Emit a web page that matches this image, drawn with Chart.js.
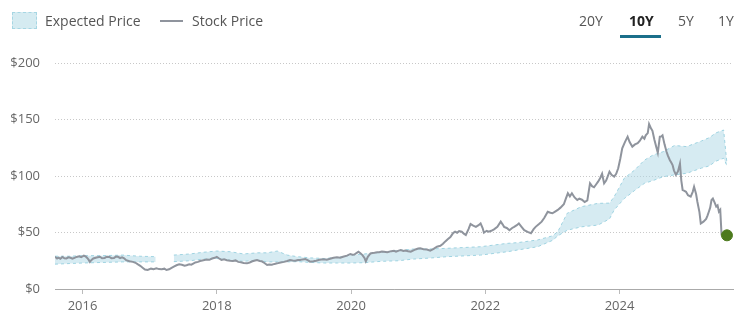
<!DOCTYPE html>
<html><head><meta charset="utf-8">
<script src="https://cdn.jsdelivr.net/npm/chart.js@4"></script>
<style>
html,body{margin:0;padding:0;background:#fff;}
#wrap{position:relative;width:743px;height:334px;font-family:"Open Sans",sans-serif;}
canvas{position:absolute;left:0;top:0;}
.leg{position:absolute;top:10px;font-size:14px;color:#555;line-height:22px;}
.box{position:absolute;left:12px;top:12px;width:23px;height:15px;background:#d5ebf1;border:1px dashed #a6d6e3;}
.lin{position:absolute;left:160px;top:20px;width:23px;height:2px;background:#8f949d;}
.rng{position:absolute;top:10px;font-size:14px;color:#555;line-height:22px;}
.bar{position:absolute;left:620px;top:35px;width:41px;height:3px;background:#1b6f8a;}
</style></head>
<body>
<div id="wrap">
<canvas id="c" width="743" height="334"></canvas>
<div class="box"></div><div class="leg" style="left:45px">Expected Price</div>
<div class="lin"></div><div class="leg" style="left:192px">Stock Price</div>
<div class="rng" style="left:579px">20Y</div>
<div class="rng" style="left:629px;font-weight:bold;color:#222">10Y</div>
<div class="rng" style="left:678px">5Y</div>
<div class="rng" style="left:718px">1Y</div>
<div class="bar"></div>
</div>
<script>
const tickYears = [2016, 2018, 2020, 2022, 2024];
const yTicks = [0, 50, 100, 150, 200];

const stockDates = [2015.59,2015.62,2015.64,2015.67,2015.70,2015.73,2015.76,2015.79,2015.82,2015.85,2015.88,2015.91,2015.95,2015.98,2016.02,2016.05,2016.07,2016.09,2016.11,2016.13,2016.16,2016.21,2016.26,2016.29,2016.33,2016.36,2016.40,2016.43,2016.47,2016.50,2016.53,2016.56,2016.59,2016.62,2016.65,2016.70,2016.75,2016.79,2016.82,2016.86,2016.90,2016.93,2016.97,2017.02,2017.06,2017.10,2017.14,2017.18,2017.22,2017.25,2017.29,2017.32,2017.36,2017.40,2017.44,2017.48,2017.52,2017.55,2017.59,2017.62,2017.65,2017.68,2017.72,2017.75,2017.80,2017.85,2017.89,2017.93,2017.97,2018.00,2018.03,2018.07,2018.11,2018.15,2018.20,2018.24,2018.28,2018.32,2018.36,2018.40,2018.45,2018.49,2018.53,2018.57,2018.60,2018.64,2018.67,2018.71,2018.75,2018.78,2018.82,2018.86,2018.90,2018.95,2019.00,2019.05,2019.09,2019.13,2019.17,2019.21,2019.24,2019.28,2019.32,2019.36,2019.39,2019.44,2019.48,2019.53,2019.59,2019.64,2019.70,2019.74,2019.79,2019.84,2019.88,2019.94,2019.99,2020.02,2020.05,2020.08,2020.11,2020.14,2020.17,2020.20,2020.22,2020.25,2020.29,2020.32,2020.35,2020.39,2020.42,2020.46,2020.49,2020.54,2020.60,2020.64,2020.67,2020.71,2020.74,2020.78,2020.81,2020.85,2020.89,2020.93,2020.96,2021.00,2021.03,2021.08,2021.13,2021.18,2021.23,2021.28,2021.33,2021.37,2021.40,2021.44,2021.48,2021.52,2021.55,2021.58,2021.61,2021.65,2021.68,2021.71,2021.75,2021.78,2021.82,2021.86,2021.90,2021.93,2021.96,2021.98,2022.02,2022.05,2022.09,2022.13,2022.18,2022.23,2022.26,2022.28,2022.32,2022.36,2022.40,2022.43,2022.47,2022.50,2022.54,2022.58,2022.63,2022.68,2022.72,2022.75,2022.80,2022.84,2022.88,2022.93,2022.97,2023.00,2023.04,2023.08,2023.12,2023.17,2023.20,2023.23,2023.26,2023.29,2023.33,2023.37,2023.40,2023.44,2023.48,2023.52,2023.56,2023.59,2023.62,2023.65,2023.68,2023.71,2023.74,2023.77,2023.80,2023.82,2023.85,2023.88,2023.92,2023.95,2023.98,2024.01,2024.04,2024.08,2024.12,2024.15,2024.19,2024.23,2024.27,2024.30,2024.34,2024.37,2024.39,2024.42,2024.44,2024.47,2024.49,2024.52,2024.55,2024.57,2024.60,2024.62,2024.64,2024.67,2024.70,2024.72,2024.75,2024.77,2024.79,2024.81,2024.84,2024.87,2024.90,2024.92,2024.94,2024.96,2024.99,2025.02,2025.06,2025.09,2025.11,2025.14,2025.16,2025.19,2025.21,2025.25,2025.29,2025.31,2025.33,2025.35,2025.37,2025.39,2025.42,2025.44,2025.46,2025.48,2025.50,2025.52,2025.54,2025.56,2025.60];
const stockPrice = [28.5,27,27.8,26.8,28.3,27.2,27,28,27.6,26.8,27.6,28.4,29,28.2,29.5,28.6,27.5,26,24,25.5,27,27.8,28.5,27.2,27.5,28.6,28.4,27.3,27.5,28.8,28.5,27.4,28,27.2,25.5,24.6,24,23.2,22,20.5,18.6,17.2,16.8,18,17.5,18.3,17.6,17.5,18,16.8,17.4,18.5,19.8,21,21.8,21.5,20.6,21,21.8,21.5,22.5,23.5,24,24.8,25.5,26,25.8,27,27.6,28.5,27.2,25.7,26.2,25.5,25,24.8,25.3,24,23.6,23,22.7,23.5,24.5,25.2,25.7,24.8,24.5,23,21.2,21.6,21.5,22.2,22.7,23.4,24,24.8,25.7,25.2,25,25.6,25.7,26.2,26.5,25.4,24.2,24.6,25,25.8,26.3,26,27,27.6,28,27.7,28.5,29.5,31,30.4,30.5,31.8,33,31.6,30,27.5,24.5,28.5,31.5,31.8,32,32.6,32.5,33.2,33,32.6,33.5,33.8,33,34,34.5,33.6,34,33.4,33,34.2,35,35.8,36,35.2,35,33.9,35.5,37.4,38.2,40,41.9,44,46,49.5,50.7,49.8,51.2,50.7,49,47.8,53,57.5,56,55,56.5,58,54,49.8,51.5,50.7,51.5,52.8,55,59.6,57,55,54,52,54,55,56.5,58,55,52,50.5,49.3,53,55,57.5,59.6,63,68.4,67.5,67,68.5,70,72,75,80,84.7,82,84.7,81,78.8,80,79,77,78.5,93.5,91,90,92.5,95,98,102,93.5,96,99,103.8,101,99.5,102,106.8,115,124.5,130,134.8,130,126,128,129,131,134.8,133,136,138,146,142,140,131.8,125,120.5,134.8,135,136,128,121.5,118,114,112,109.7,105,101,104,111,96,87.6,87,86,83,81.7,86,90.5,84,77,68,58,59.6,62,65,68.4,72,78.8,80,76,73,74,68.4,70,47.5];

const bandDates = [2015.59,2015.80,2016.00,2016.30,2016.60,2016.85,2017.09,2017.20,2017.36,2017.60,2017.80,2018.00,2018.20,2018.40,2018.60,2018.75,2018.90,2019.05,2019.20,2019.40,2019.60,2019.80,2020.00,2020.20,2020.45,2020.70,2020.93,2021.20,2021.43,2021.93,2022.33,2022.48,2022.78,2023.00,2023.08,2023.22,2023.43,2023.68,2023.85,2023.92,2024.07,2024.22,2024.37,2024.50,2024.65,2024.82,2025.00,2025.22,2025.34,2025.43,2025.55,2025.60];
const bandUpper = [29,29,29.5,29.5,30,29,28.6,null,30,31,32.5,33.6,33,31,32,32,33.6,30,28.6,27.5,27,28,30,31,32.5,34,35.4,35.5,36,37.4,40.4,41,43.4,47,50.7,67,72.8,75.8,76,81.7,98,105,114,118.6,121.5,127,126,131,134,138,140.7,111];
const bandLower = [22,22.5,23,23.5,24,24,24,null,24.2,25,26.5,27,25.5,24.5,25.5,24,24,24,24.2,23.5,23,23,23,23.3,24.5,25,26.5,27.5,28.6,30,33,34.5,37.4,43,47,52,55,56.6,62,70,80,87,93.5,96,99.4,101,102.4,107,109,113,115.7,109];

const lastDate = [2025.60];
const lastPrice = [47.5];

const toXY = (xs, ys) => xs.map((x, i) => ({x: x, y: ys[i]}));
const FONT = {family: "'Open Sans', sans-serif", size: 13};

new Chart(document.getElementById('c'), {
  type: 'line',
  data: {
    datasets: [
      {label: 'dot', data: toXY(lastDate, lastPrice), showLine: false, pointRadius: 5.5, pointBackgroundColor: '#4d7a1e', pointBorderColor: '#4d7a1e', order: 0},
      {label: 'Stock Price', data: toXY(stockDates, stockPrice), borderColor: '#8f949d', borderWidth: 2, pointRadius: 0, tension: 0, fill: false, order: 1},
      {label: 'upper', data: toXY(bandDates, bandUpper), borderColor: '#9fd3e1', borderWidth: 1, borderDash: [3, 3], pointRadius: 0, fill: false, spanGaps: false, order: 2},
      {label: 'Expected Price', data: toXY(bandDates, bandLower), borderColor: '#9fd3e1', borderWidth: 1, borderDash: [3, 3], pointRadius: 0, fill: '-1', backgroundColor: 'rgba(173,216,230,0.5)', spanGaps: false, order: 3}
    ]
  },
  options: {
    responsive: false,
    animation: false,
    layout: {padding: {top: 63, right: 10, left: 0, bottom: 0}},
    plugins: {legend: {display: false}, tooltip: {enabled: false}},
    scales: {
      x: {
        type: 'linear', min: 2015.59, max: 2025.69,
        afterBuildTicks: s => { s.ticks = tickYears.map(v => ({value: v})); },
        ticks: {callback: v => String(v), color: '#666', font: FONT, padding: 4, maxRotation: 0},
        grid: {drawOnChartArea: false, drawTicks: true, tickLength: 5, color: '#bbb'},
        border: {display: true, color: '#aaa'},
        afterFit: s => { s.height = 45; }
      },
      y: {
        min: 0, max: 200,
        afterBuildTicks: s => { s.ticks = yTicks.map(v => ({value: v})); },
        ticks: {callback: v => '$' + v, color: '#666', font: FONT, padding: 15},
        grid: {drawTicks: false, color: '#c8c8c8'},
        border: {display: false, dash: [1, 2]},
        afterFit: s => { s.width = 55; }
      }
    }
  }
});
</script>
</body></html>
